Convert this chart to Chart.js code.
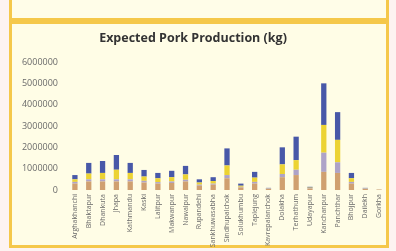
<!DOCTYPE html>
<html>
<head>
<meta charset="utf-8">
<script src="https://cdn.jsdelivr.net/npm/chart.js@4.4.1/dist/chart.umd.min.js"></script>
<style>
  html, body { margin: 0; padding: 0; }
  body { width: 396px; height: 251px; background: #fdf3f1; position: relative; overflow: hidden; font-family: "Open Sans", sans-serif; }
  #prev { position: absolute; left: 9px; top: -4px; width: 374px; height: 22px; background: #fffde8; border: 3px solid #f5c84a; border-top: none; }
  #panel { position: absolute; left: 9px; top: 21px; width: 374px; height: 221px; background: #fffde6; border: 3px solid #f5c84a; }
  #c { position: absolute; left: 0; top: 0; }
</style>
</head>
<body>
<div id="prev"></div>
<div id="panel"></div>
<canvas id="c" width="396" height="251"></canvas>
<script>
const categories = ["Arghakhanchi","Bhaktapur","Dhankuta","Jhapa","Kathmandu","Kaski","Lalitpur","Makwanpur","Nawalpur","Rupandehi","Sankhuwasabha","Sindhupalchok","Solukhumbu","Taplejung","Kavrepalanchok","Dolakha","Terhathum","Udayapur","Kanchanpur","Panchthar","Bhojpur","Dailekh","Gorkha"];
const seriesNames = ["Series 1","Series 2","Series 3","Series 4"];
const series1 = [300000,400000,400000,400000,400000,350000,300000,330000,400000,200000,250000,550000,120000,300000,50000,600000,700000,70000,850000,800000,300000,50000,20000];
const series2 = [80000,100000,100000,100000,100000,80000,70000,70000,80000,50000,50000,150000,30000,80000,20000,150000,250000,20000,900000,500000,80000,20000,5000];
const series3 = [120000,270000,300000,450000,300000,200000,180000,200000,250000,100000,120000,450000,50000,200000,10000,450000,450000,20000,1300000,1050000,170000,10000,3000];
const series4 = [200000,500000,560000,690000,470000,310000,250000,300000,400000,150000,180000,800000,100000,270000,20000,800000,1100000,40000,1950000,1300000,250000,20000,2000];
const yTicks = [0,1000000,2000000,3000000,4000000,5000000,6000000];
const colors = ["#d0a070","#aea3c8","#ecd333","#4858a8"];

new Chart(document.getElementById('c'), {
  type: 'bar',
  data: {
    labels: categories,
    datasets: [series1, series2, series3, series4].map((d, i) => ({
      label: seriesNames[i], data: d, backgroundColor: colors[i],
      barPercentage: 0.45, categoryPercentage: 0.85
    }))
  },
  options: {
    responsive: false, animation: false,
    layout: { padding: { top: 28, right: 10, left: 0, bottom: 0 } },
    plugins: {
      legend: { display: false },
      tooltip: { enabled: false },
      title: { display: true, text: 'Expected Pork Production (kg)', color: '#333333',
        font: { family: 'Open Sans', size: 12.5, weight: 'bold' }, padding: { top: 3, bottom: 16 } }
    },
    scales: {
      x: { stacked: true, grid: { display: false, drawTicks: false }, border: { display: false },
        ticks: { minRotation: 90, maxRotation: 90, autoSkip: false, color: '#6a6a6a', padding: 4,
          font: { family: 'Open Sans', size: 7 } },
        afterFit: s => { s.height = 61; } },
      y: { stacked: true, min: 0, max: 6000000, grid: { display: false, drawTicks: false }, border: { display: false },
        afterBuildTicks: s => { s.ticks = yTicks.map(v => ({ value: v })); },
        ticks: { color: '#6a6a6a', padding: 10, font: { family: 'Open Sans', size: 9 },
          callback: v => String(v) },
        afterFit: s => { s.width = 68; } }
    }
  }
});
</script>
</body>
</html>
